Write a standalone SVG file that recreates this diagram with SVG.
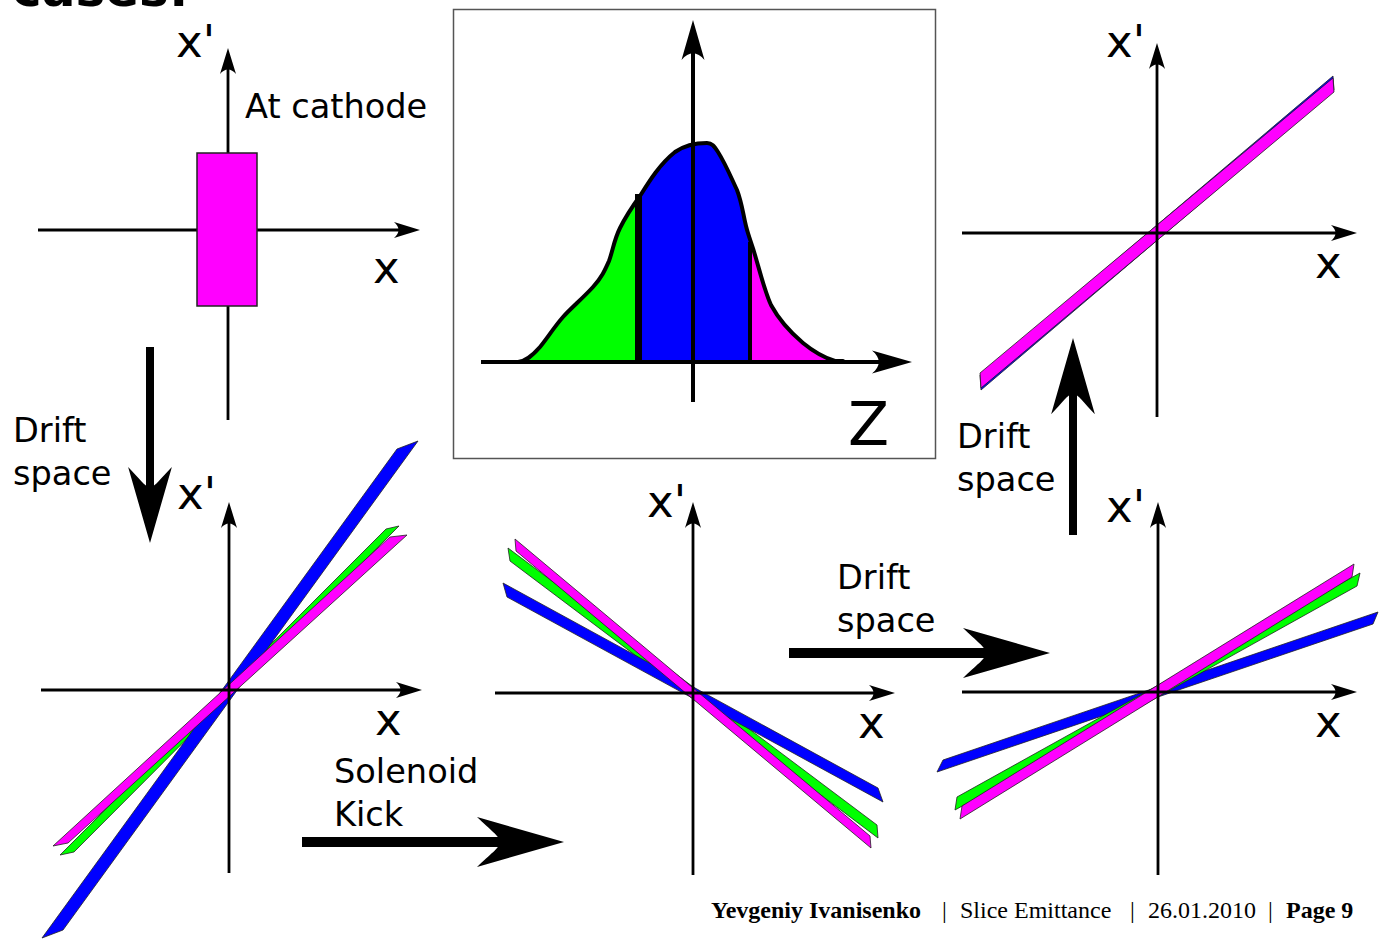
<svg xmlns="http://www.w3.org/2000/svg" xmlns:xlink="http://www.w3.org/1999/xlink" width="1379" height="939" viewBox="0 0 1379 939">
<style>
.ax{stroke:#000;stroke-width:2.8;fill:none;marker-end:url(#ah)}
.axL{stroke:#000;stroke-width:4;fill:none;marker-end:url(#ahL)}
.lbl{font-family:"DejaVu Sans",sans-serif;font-size:33.6px;fill:#000}
.xl{font-family:"DejaVu Sans",sans-serif;font-size:45px;fill:#000}
.st{stroke:#222;stroke-width:0.8}
.m{fill:#ff00ff}.b{fill:#0000ff}.g{fill:#00ff00}
.ft{font-family:"Liberation Serif",serif;font-size:24px;fill:#000}
.big{fill:#000}
</style>
<defs>
<marker id="ah" viewBox="-27 -9 28 18" markerWidth="28" markerHeight="18" refX="-12" refY="0" orient="auto" markerUnits="userSpaceOnUse">
<path d="M0,0 L-26,-8 C-20,-3 -20,3 -26,8 Z" fill="#000"/>
</marker>
<marker id="ahL" viewBox="-42 -13 44 26" markerWidth="44" markerHeight="26" refX="-18" refY="0" orient="auto" markerUnits="userSpaceOnUse">
<path d="M0,0 L-40,-11.5 C-31,-4 -31,4 -40,11.5 Z" fill="#000"/>
</marker>
<path id="head" d="M0,0 L-87,-25 C-74,-12 -64,-6 -64,0 C-64,6 -74,12 -87,25 Z"/>
<path id="dist" d="M518,362 C526,361 532,356 540,347 C548,337 555,326 563,317 C570,309 584,297 593,287 C602,277 605,270 609,261 C613,250 614,240 620,228 C626,216 632,207 640,196 C650,180 660,164 675,152 C685,145 697,143 707,143 C712,143 714,146 718,152 C725,163 730,175 737,190 C742,203 743,214 746,226 C749,238 752,244 755,255 C760,272 765,292 771,305 C778,318 790,332 803,343 C814,352 825,358 835,361 L843,361 L843,362 Z"/>
<clipPath id="clipL"><rect x="400" y="0" width="238" height="470"/></clipPath>
<clipPath id="clipR"><rect x="750" y="0" width="200" height="470"/></clipPath>
</defs>

<text x="12" y="6" style="font-family:'DejaVu Sans',sans-serif;font-size:50px;font-weight:bold">cases:</text>

<g id="panel-cathode">
<line class="ax" x1="38" y1="230" x2="408" y2="230"/>
<line class="ax" x1="228" y1="420" x2="228" y2="60"/>
<rect x="197" y="153" width="60" height="153" fill="#ff00ff" stroke="#222" stroke-width="1.5"/>
<text class="xl" x="176" y="57">x'</text>
<text class="xl" x="373" y="283">x</text>
<text class="lbl" x="245" y="118">At cathode</text>
</g>

<g id="panel-distribution">
<rect x="453.5" y="9.5" width="482" height="449" fill="#fff" stroke="#555" stroke-width="1.5"/>
<use xlink:href="#dist" fill="#0000ff"/>
<use xlink:href="#dist" fill="#00ff00" clip-path="url(#clipL)"/>
<use xlink:href="#dist" fill="#ff00ff" clip-path="url(#clipR)"/>
<line x1="638.5" y1="194" x2="638.5" y2="362" stroke="#000" stroke-width="7"/>
<line x1="750" y1="242" x2="750" y2="362" stroke="#000" stroke-width="4"/>
<use xlink:href="#dist" fill="none" stroke="#000" stroke-width="4" stroke-linejoin="round"/>
<line class="axL" x1="481" y1="362" x2="894" y2="362"/>
<line class="axL" x1="693" y1="402" x2="693" y2="38"/>
<text x="848" y="445" style="font-family:'DejaVu Sans',sans-serif;font-size:60px">Z</text>
</g>

<g id="panel-drift1">
<polygon class="g st" points="386,529 399,526 74,852 60,855"/>
<polygon class="b st" points="397,449 418,441 63,930 42,938"/>
<polygon class="m st" points="390,537 407,535 68,843 53,846"/>
<line class="ax" x1="41" y1="690" x2="410" y2="690"/>
<line class="ax" x1="229" y1="873" x2="229" y2="514"/>
<text class="xl" x="177" y="509">x'</text>
<text class="xl" x="375" y="735">x</text>
</g>

<g id="panel-kick">
<polygon class="g st" points="508,548 877,825 878,838 510,561"/>
<polygon class="b st" points="503,583 878,788 883,802 507,597"/>
<polygon class="m st" points="515,539 870,836 871,848 516,551"/>
<line class="ax" x1="495" y1="693" x2="883" y2="693"/>
<line class="ax" x1="693" y1="875" x2="693" y2="514"/>
<text class="xl" x="647" y="517">x'</text>
<text class="xl" x="858" y="738">x</text>
</g>

<g id="panel-drift2">
<polygon class="b st" points="943,760 1378,612 1373,624 937,772"/>
<polygon class="g st" points="957,797 1360,573 1357,586 955,810"/>
<polygon class="m st" points="962,806 1354,564 1352,577 960,819"/>
<line class="ax" x1="962" y1="692" x2="1345" y2="692"/>
<line class="ax" x1="1158" y1="875" x2="1158" y2="514"/>
<text class="xl" x="1106" y="522">x'</text>
<text class="xl" x="1315" y="737">x</text>
</g>

<g id="panel-drift3">
<polygon class="b st" points="980,375 1333,76 1334,90 981,390"/>
<polygon class="m st" points="980,373 1333,78 1334,92 981,388"/>
<line class="ax" x1="962" y1="233" x2="1345" y2="233"/>
<line class="ax" x1="1157" y1="417" x2="1157" y2="55"/>
<text class="xl" x="1106" y="57">x'</text>
<text class="xl" x="1315" y="278">x</text>
</g>

<g id="connectors">
<g id="arrow-drift-down">
<rect class="big" x="146" y="347" width="8" height="145"/>
<use xlink:href="#head" class="big" transform="translate(150,543) rotate(90) scale(0.875)"/>
</g>
<g id="arrow-kick">
<rect class="big" x="302" y="837" width="200" height="10"/>
<use xlink:href="#head" class="big" transform="translate(564,842)"/>
</g>
<g id="arrow-drift-right">
<rect class="big" x="789" y="648" width="200" height="10"/>
<use xlink:href="#head" class="big" transform="translate(1050,653)"/>
</g>
<g id="arrow-drift-up">
<rect class="big" x="1069" y="385" width="8" height="150"/>
<use xlink:href="#head" class="big" transform="translate(1073,338) rotate(-90) scale(0.875)"/>
</g>
</g>

<g id="labels">
<text class="lbl" x="13" y="442">Drift</text>
<text class="lbl" x="13" y="485">space</text>
<text class="lbl" x="334" y="783">Solenoid</text>
<text class="lbl" x="334" y="826">Kick</text>
<text class="lbl" x="837" y="589">Drift</text>
<text class="lbl" x="837" y="632">space</text>
<text class="lbl" x="957" y="448">Drift</text>
<text class="lbl" x="957" y="491">space</text>
</g>

<g id="footer" class="ft">
<text x="711" y="918" font-weight="bold">Yevgeniy Ivanisenko</text>
<text x="942" y="918">|</text>
<text x="960" y="918">Slice Emittance</text>
<text x="1130" y="918">|</text>
<text x="1148" y="918">26.01.2010</text>
<text x="1268" y="918">|</text>
<text x="1286" y="918" font-weight="bold">Page 9</text>
</g>
</svg>
